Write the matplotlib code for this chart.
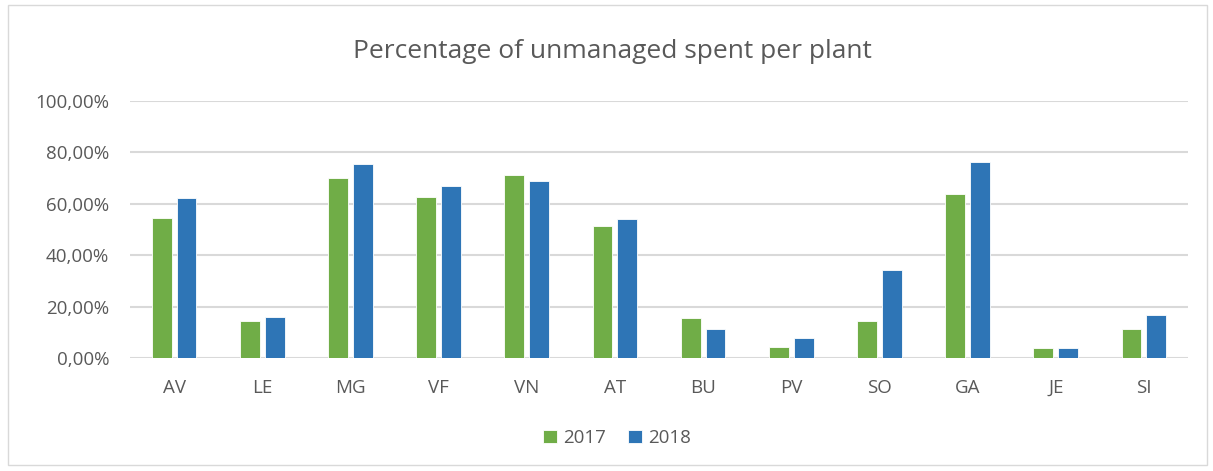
import matplotlib
matplotlib.use("Agg")
import matplotlib.pyplot as plt
import numpy as np
from matplotlib.ticker import FuncFormatter
from matplotlib.patches import Rectangle

categories = ["AV", "LE", "MG", "VF", "VN", "AT", "BU", "PV", "SO", "GA", "JE", "SI"]
values_2017 = [54.4, 14.3, 70.0, 62.7, 71.4, 51.5, 15.7, 4.2, 14.3, 63.7, 4.0, 11.3]
values_2018 = [62.2, 16.1, 75.3, 67.0, 69.0, 54.0, 11.4, 7.9, 34.1, 76.3, 4.0, 16.6]
series_labels = ["2017", "2018"]
title = "Percentage of unmanaged spent per plant"

plt.rcParams['font.family'] = ['Open Sans', 'DejaVu Sans']

W, H = 1213, 471
fig = plt.figure(figsize=(W/100, H/100), dpi=100)
ax = fig.add_axes([130/W, 1-358/H, (1188-130)/W, (358-101)/H])

# outer border
fig.patches.append(Rectangle((8/W, 6/H), (1207-8)/W, (466-6)/H, transform=fig.transFigure,
                             fill=False, edgecolor="#d9d9d9", linewidth=1))

x = np.arange(len(categories))
w = 0.225
off = 0.14
green = "#70AD47"
blue = "#2E75B6"
ax.bar(x - off, values_2017, w, color=green, edgecolor="white", linewidth=0.6, label=series_labels[0], zorder=3)
ax.bar(x + off, values_2018, w, color=blue, edgecolor="white", linewidth=0.6, label=series_labels[1], zorder=3)

ax.set_xlim(-0.5, len(categories) - 0.5)
ax.set_ylim(0, 100)
ax.set_yticks(np.arange(0, 101, 20))
ax.yaxis.set_major_formatter(FuncFormatter(lambda v, p: f"{v:.2f}%".replace(".", ",")))
ax.set_xticks(x)
ax.set_xticklabels(categories)
ax.grid(axis="y", color="#d9d9d9", linewidth=1.5, zorder=0)
for s in ax.spines.values():
    s.set_visible(False)
ax.tick_params(axis="both", length=0, colors="#595959", labelsize=13.5)
ax.tick_params(axis="x", pad=15)
ax.tick_params(axis="y", pad=15)

fig.text(612/W, 1-52/H, title, ha="center", va="center", fontsize=19, color="#595959")

leg = fig.legend(loc="center", bbox_to_anchor=(617/W, 1-438/H), ncol=2, frameon=False,
                 fontsize=13.5, labelcolor="#595959", handlelength=0.75, handleheight=0.75,
                 handletextpad=0.3, columnspacing=1.2)

fig.savefig("out.png", dpi=100)
